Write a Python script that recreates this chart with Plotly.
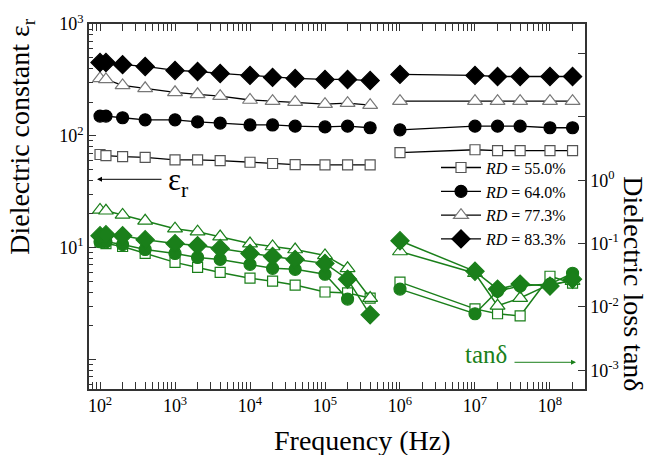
import numpy as np
import plotly.graph_objects as go

# ---------------- data ----------------
freq_low = [100, 120, 200, 400, 1e3, 2e3, 4e3, 1e4, 2e4, 4e4, 1e5, 2e5, 4e5]
freq_high = [1e6, 1e7, 2e7, 4e7, 1e8, 2e8]

labels = ["55.0%", "64.0%", "77.3%", "83.3%"]

eps_55_low = [68, 66.5, 65, 64, 61, 61, 60, 58, 56.5, 55.3, 55, 55, 55]
eps_55_high = [70.8, 75, 73.6, 73.6, 73.6, 73.6]
eps_64_low = [150, 150, 145, 139, 139, 133, 130, 125, 125, 122, 120, 122, 118]
eps_64_high = [113, 122, 122, 122, 118, 118]
eps_77_low = [326, 319, 282, 266, 245, 235, 226, 209, 204, 200, 192, 196, 188]
eps_77_high = [204, 204, 204, 204, 204, 204]
eps_83_low = [452, 452, 433, 417, 384, 376, 361, 347, 333, 326, 319, 319, 312]
eps_83_high = [354, 347, 339, 339, 339, 339]

tan_55_low = [0.105, 0.10, 0.09, 0.07, 0.0505, 0.042, 0.035, 0.0284, 0.0255, 0.0221, 0.0172, 0.0166, 0.0138]
tan_55_high = [0.0246, 0.0093, 0.0078, 0.0072, 0.0305, 0.0237]
tan_64_low = [0.107, 0.107, 0.0965, 0.0806, 0.0698, 0.0604, 0.0562, 0.047, 0.0407, 0.0392, 0.0328, 0.0133, None]
tan_64_high = [0.0191, 0.0078, 0.0178, 0.0213, 0.0229, 0.034]
tan_77_low = [0.34, 0.33, 0.284, 0.229, 0.172, 0.154, 0.129, 0.10, 0.09, 0.0806, 0.065, 0.0407, 0.0138]
tan_77_high = [0.075, 0.034, 0.0104, 0.0138, 0.0229, 0.0255]
tan_83_low = [0.133, 0.138, 0.133, 0.115, 0.10, 0.093, 0.0835, 0.0698, 0.0626, 0.0562, 0.0487, 0.0274, 0.0075]
tan_83_high = [0.111, 0.0365, 0.0191, 0.0229, 0.0213, 0.0274]

x_ticks = [1e2, 1e3, 1e4, 1e5, 1e6, 1e7, 1e8]
x_ticktext = ["10<sup>2</sup>", "10<sup>3</sup>", "10<sup>4</sup>", "10<sup>5</sup>",
              "10<sup>6</sup>", "10<sup>7</sup>", "10<sup>8</sup>"]
yl_ticks = [1, 10, 100, 1000]
yl_ticktext = ["", "10<sup>1</sup>", "10<sup>2</sup>", "10<sup>3</sup>"]
yr_ticks = [1e-3, 1e-2, 1e-1, 1, 10, 100]
yr_ticktext = ["10<sup>-3</sup>", "10<sup>-2</sup>", "10<sup>-1</sup>", "10<sup>0</sup>", "", ""]

# ---------------- styling ----------------
FONT = "Liberation Serif, Times New Roman, serif"
GREEN = "#1a7f1a"

x_all = freq_low + [None] + freq_high


def join(a, b):
    return a + [None] + b


eps_series = [
    (eps_55_low, eps_55_high, "square", "white", "#555555", 10),
    (eps_64_low, eps_64_high, "circle", "black", "black", 12),
    (eps_77_low, eps_77_high, "triangle-up", "white", "#777777", 13),
    (eps_83_low, eps_83_high, "diamond", "black", "black", 14),
]
tan_series = [
    (tan_55_low, tan_55_high, "square", "white", GREEN, 10),
    (tan_77_low, tan_77_high, "triangle-up", "white", GREEN, 13),
    (tan_64_low, tan_64_high, "circle", GREEN, GREEN, 12),
    (tan_83_low, tan_83_high, "diamond", GREEN, GREEN, 14),
]

fig = go.Figure()

for (lo, hi, sym, fill, edge, sz), lab in zip(eps_series, labels):
    fig.add_trace(go.Scatter(
        x=x_all, y=join(lo, hi), mode="lines+markers",
        name="<i>RD</i> = " + lab,
        line=dict(color="black", width=1.3),
        marker=dict(symbol=sym, size=sz, color=fill, line=dict(color=edge, width=1.2)),
        connectgaps=False, yaxis="y",
    ))

for lo, hi, sym, fill, edge, sz in tan_series:
    fig.add_trace(go.Scatter(
        x=x_all, y=join(lo, hi), mode="lines+markers", showlegend=False,
        line=dict(color=GREEN, width=1.5),
        marker=dict(symbol=sym, size=sz, color=fill, line=dict(color=edge, width=1.2)),
        connectgaps=False, yaxis="y2",
    ))


def minors(d0, d1):
    v = []
    for d in range(d0, d1 + 1):
        for m in range(2, 10):
            v.append(m * 10.0 ** d)
    return v


L, R, T, B = 89, 71, 20, 66
W, H = 656, 455
pw, ph = W - L - R, H - T - B


def px(xp):
    return (xp - L) / pw


def py(yp):
    return (H - B - yp) / ph


fig.update_layout(
    width=W, height=H,
    margin=dict(l=L, r=R, t=T, b=B),
    paper_bgcolor="white", plot_bgcolor="white",
    font=dict(family=FONT, size=16, color="black"),
    xaxis=dict(
        type="log", range=[1.853, 8.467],
        tickmode="array", tickvals=x_ticks, ticktext=x_ticktext,
        ticks="inside", ticklen=7, tickwidth=1, tickcolor="#333",
        minor=dict(tickmode="array", tickvals=minors(1, 8), ticks="inside",
                   ticklen=4, tickcolor="#333", showgrid=False),
        showline=True, linecolor="#333", linewidth=1.5, mirror="allticks",
        showgrid=False, zeroline=False,
        tickfont=dict(family=FONT, size=18),
    ),
    yaxis=dict(
        type="log", range=[-0.265, 3.0],
        tickmode="array", tickvals=yl_ticks, ticktext=yl_ticktext,
        ticks="inside", ticklen=7, tickwidth=1, tickcolor="#333",
        minor=dict(tickmode="array", tickvals=minors(-1, 2), ticks="inside",
                   ticklen=4, tickcolor="#333", showgrid=False),
        showline=True, linecolor="#333", linewidth=1.5,
        showgrid=False, zeroline=False,
        tickfont=dict(family=FONT, size=18),
    ),
    yaxis2=dict(
        type="log", range=[-3.297, 2.469], overlaying="y", side="right",
        tickmode="array", tickvals=yr_ticks, ticktext=yr_ticktext,
        ticks="inside", ticklen=7, tickwidth=1, tickcolor="#333",
        showline=True, linecolor="#333", linewidth=1.5,
        showgrid=False, zeroline=False,
        tickfont=dict(family=FONT, size=18),
    ),
    legend=dict(
        x=px(436), y=py(148), xanchor="left", yanchor="top",
        bgcolor="rgba(0,0,0,0)", borderwidth=0, itemwidth=40,
        font=dict(family=FONT, size=16),
    ),
    showlegend=True,
)

annotations = [
    # axis titles
    dict(text="Dielectric constant ε<sub>r</sub>", x=px(22), y=py(134), xref="paper", yref="paper",
         showarrow=False, textangle=-90, font=dict(family=FONT, size=28),
         xanchor="center", yanchor="middle"),
    dict(text="Dielectric loss tanδ", x=px(634), y=py(282), xref="paper", yref="paper",
         showarrow=False, textangle=90, font=dict(family=FONT, size=28),
         xanchor="center", yanchor="middle"),
    dict(text="Frequency (Hz)", x=px(362), y=py(441), xref="paper", yref="paper",
         showarrow=False, font=dict(family=FONT, size=28),
         xanchor="center", yanchor="middle"),
    # epsilon label + arrow
    dict(text="ε<sub>r</sub>", x=px(178), y=py(180), xref="paper", yref="paper",
         showarrow=False, font=dict(family=FONT, size=31), xanchor="center", yanchor="middle"),
    dict(text="", x=px(97), y=py(177), xref="paper", yref="paper",
         showarrow=True, ax=66, ay=0, arrowhead=2, arrowsize=1, arrowwidth=1, arrowcolor="black"),
    # tan delta label + arrow
    dict(text="tanδ", x=px(486), y=py(354), xref="paper", yref="paper",
         showarrow=False, font=dict(family=FONT, size=25, color=GREEN),
         xanchor="center", yanchor="middle"),
    dict(text="", x=px(576), y=py(362), xref="paper", yref="paper",
         showarrow=True, ax=-63, ay=0, arrowhead=2, arrowsize=1, arrowwidth=1, arrowcolor=GREEN),
]
fig.update_layout(annotations=annotations)

fig.write_html("out.html", config={"displayModeBar": False},
               post_script="document.body.style.margin='0';document.body.style.padding='0';")
